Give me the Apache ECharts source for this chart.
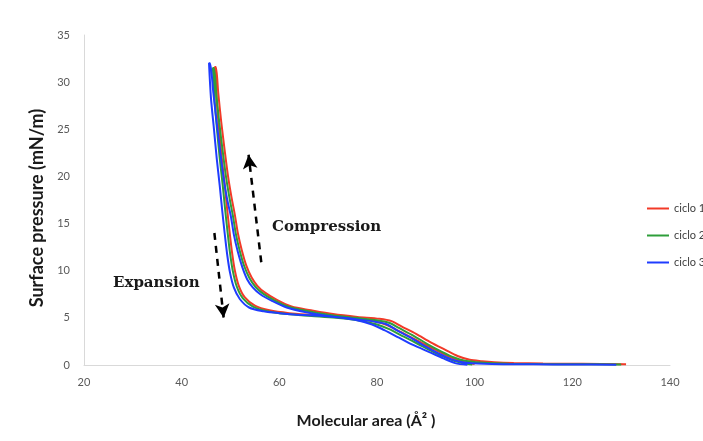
<!DOCTYPE html>
<html>
<head>
<meta charset="utf-8">
<script src="https://cdn.jsdelivr.net/npm/echarts@6/dist/echarts.min.js"></script>
<style>html,body{margin:0;padding:0;background:#fff}#c{width:703px;height:441px}</style>
</head>
<body>
<div id="c"></div>
<script>
// ---- data ----
var seriesNames = ['ciclo 1', 'ciclo 2', 'ciclo 3'];
var seriesColors = ['#F23A28', '#2E9E3A', '#1F3CFF'];
var xTicks = [20, 40, 60, 80, 100, 120, 140];
var yTicks = [0, 5, 10, 15, 20, 25, 30, 35];

// ciclo 1 (compression then expansion)
var c1CompArea = [131, 122, 114, 108, 104, 101.5, 99, 96.5, 94, 91, 88, 85, 83, 80.5, 76, 71, 66.5, 62.5, 59.5, 57, 55.5, 54.3, 53.2, 52.3, 51.5, 50.9, 50.2, 49.5, 48.8, 48.1, 47.5, 47];
var c1CompPressure = [0.08, 0.12, 0.16, 0.22, 0.3, 0.4, 0.55, 0.95, 1.6, 2.4, 3.3, 4.1, 4.65, 4.9, 5.1, 5.4, 5.8, 6.2, 6.9, 7.7, 8.4, 9.3, 10.6, 12.2, 14, 15.9, 17.8, 20, 22.8, 25.8, 28.8, 31.6];
var c1ExpArea = [46.8, 47.1, 47.6, 48.2, 48.8, 49.3, 49.8, 50.3, 50.9, 51.7, 52.9, 55, 58, 62, 67, 72, 77, 80.5, 83, 86, 89, 92, 95, 97.5, 100];
var c1ExpPressure = [31.6, 28.5, 25.3, 22, 19.2, 16.6, 14.2, 12, 10, 8.4, 7.2, 6.3, 5.8, 5.5, 5.3, 5.1, 4.85, 4.5, 4.0, 3.2, 2.4, 1.6, 0.85, 0.35, 0.1];

// ciclo 2
var c2CompArea = [130, 121, 113, 107, 103, 100.5, 98, 95.8, 93.3, 90.4, 87.5, 84.6, 82.6, 80, 75.5, 70.5, 66, 62, 59, 56.6, 55.1, 53.9, 52.8, 51.9, 51.1, 50.5, 49.8, 49.1, 48.4, 47.7, 47.1, 46.6];
var c2CompPressure = [0.05, 0.08, 0.1, 0.14, 0.2, 0.3, 0.45, 0.8, 1.4, 2.2, 3.1, 3.9, 4.45, 4.75, 5.0, 5.3, 5.7, 6.15, 6.85, 7.6, 8.3, 9.2, 10.5, 12.1, 13.9, 15.8, 17.7, 19.9, 22.7, 25.7, 28.7, 31.5];
var c2ExpArea = [46.4, 46.7, 47.2, 47.8, 48.4, 48.9, 49.4, 49.9, 50.5, 51.3, 52.5, 54.6, 57.6, 61.6, 66.6, 71.6, 76.6, 80, 82.5, 85.5, 88.5, 91.5, 94.5, 97, 99.5];
var c2ExpPressure = [31.5, 28.4, 25.2, 21.9, 19.1, 16.5, 14.1, 11.9, 9.9, 8.3, 7.1, 6.2, 5.7, 5.4, 5.2, 5.0, 4.7, 4.3, 3.8, 3.0, 2.2, 1.4, 0.7, 0.25, 0.05];

// ciclo 3
var c3CompArea = [129, 120, 112, 106, 102, 99.5, 97.5, 95.3, 92.7, 89.8, 86.9, 84, 82.1, 79.5, 75, 70, 65.5, 61.5, 58.5, 56.1, 54.6, 53.4, 52.4, 51.5, 50.7, 50.1, 49.3, 48.6, 47.9, 47.2, 46.5, 45.8];
var c3CompPressure = [0.03, 0.05, 0.07, 0.09, 0.12, 0.18, 0.3, 0.6, 1.2, 2.0, 2.9, 3.7, 4.3, 4.6, 4.9, 5.2, 5.6, 6.1, 6.8, 7.5, 8.2, 9.1, 10.4, 12, 13.8, 15.7, 17.6, 19.8, 22.6, 25.6, 28.8, 32];
var c3ExpArea = [45.6, 46, 46.6, 47.2, 47.8, 48.3, 48.8, 49.3, 49.9, 50.7, 51.9, 53.8, 56.8, 60, 65, 70.2, 75.5, 79, 81.5, 84.5, 87.5, 90.6, 93.6, 96, 98.5];
var c3ExpPressure = [32, 28.3, 25.1, 21.8, 19, 16.4, 14, 11.8, 9.8, 8.2, 7.0, 6.1, 5.7, 5.5, 5.3, 5.15, 4.8, 4.3, 3.7, 2.9, 2.1, 1.4, 0.7, 0.2, 0.02];

// annotation arrows (data coordinates: [area, pressure])
var compressionArrow = [[56.3, 10.9], [53.7, 22.3]];
var expansionArrow = [[46.7, 14.0], [48.6, 5.0]];

// ---- build ----
function pairs(ax, py) { var out = []; for (var i = 0; i < ax.length; i++) out.push([ax[i], py[i]]); return out; }
var loops = [
  pairs(c1CompArea, c1CompPressure).concat(pairs(c1ExpArea, c1ExpPressure)),
  pairs(c2CompArea, c2CompPressure).concat(pairs(c2ExpArea, c2ExpPressure)),
  pairs(c3CompArea, c3CompPressure).concat(pairs(c3ExpArea, c3ExpPressure))
];

var series = loops.map(function (d, i) {
  return {
    name: seriesNames[i], type: 'line', data: d, showSymbol: false, smooth: 0.3,
    lineStyle: { color: seriesColors[i], width: 2 }, itemStyle: { color: seriesColors[i] },
    animation: false, z: 2 + i
  };
});
series.push({
  name: 'arrows', type: 'line', data: [], animation: false, silent: true,
  markLine: {
    silent: true, animation: false, symbol: ['none', 'arrow'], symbolSize: [11, 14],
    label: { show: false },
    lineStyle: { color: '#000', type: [7, 6], width: 2.5 },
    data: [
      [{ coord: compressionArrow[0] }, { coord: compressionArrow[1] }],
      [{ coord: expansionArrow[0] }, { coord: expansionArrow[1] }]
    ]
  }
});

var chart = echarts.init(document.getElementById('c'), null, { renderer: 'canvas' });
chart.setOption({
  backgroundColor: '#fff',
  animation: false,
  grid: { left: 84, right: 33, top: 35, bottom: 76 },
  legend: {
    data: seriesNames, orient: 'vertical', left: 642, top: 198, itemGap: 16,
    icon: 'rect', itemWidth: 22, itemHeight: 2,
    textStyle: { fontFamily: 'Lato', fontSize: 11, color: '#404040', overflow: 'none', width: 60 }
  },
  xAxis: {
    type: 'value', min: xTicks[0], max: xTicks[xTicks.length - 1], interval: 20,
    name: 'Molecular area (Å² )', nameLocation: 'middle', nameGap: 48,
    nameTextStyle: { fontFamily: 'Lato', fontWeight: 'bold', fontSize: 16, color: '#1a1a1a', padding: [0, 22, 0, 0] },
    axisLine: { show: true, lineStyle: { color: '#d9d9d9', width: 1 } },
    axisTick: { show: false }, splitLine: { show: false },
    axisLabel: { fontFamily: 'Lato', fontSize: 11, color: '#595959', margin: 12 }
  },
  yAxis: {
    type: 'value', min: yTicks[0], max: yTicks[yTicks.length - 1], interval: 5,
    name: 'Surface pressure (mN/m)', nameLocation: 'middle', nameGap: 33, nameRotate: 90,
    nameTextStyle: { fontFamily: 'Lato', fontWeight: 'bold', fontSize: 18, color: '#1a1a1a', padding: [0, 16, 0, 0] },
    axisLine: { show: true, lineStyle: { color: '#d9d9d9', width: 1 } },
    axisTick: { show: false }, splitLine: { show: false },
    axisLabel: { fontFamily: 'Lato', fontSize: 11, color: '#595959', margin: 14 }
  },
  graphic: [
    { type: 'text', left: 272, top: 220, style: { text: 'Compression', font: 'bold 15px "DejaVu Serif"', fill: '#1a1a1a' } },
    { type: 'text', left: 113, top: 276, style: { text: 'Expansion', font: 'bold 15px "DejaVu Serif"', fill: '#1a1a1a' } }
  ],
  series: series
});
</script>
</body>
</html>
